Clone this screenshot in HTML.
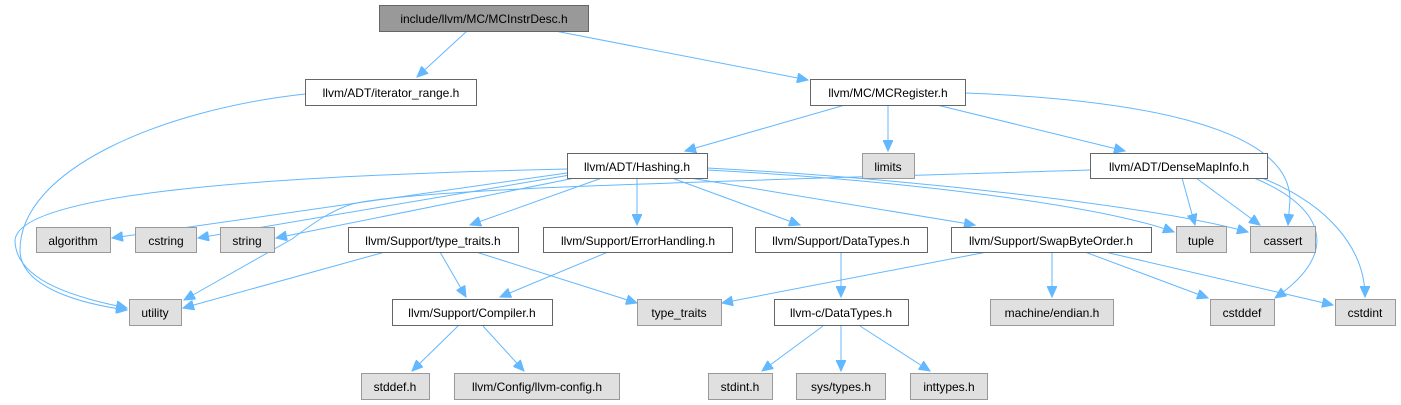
<!DOCTYPE html>
<html><head><meta charset="utf-8"><style>
html,body{margin:0;padding:0;background:#fff;}
svg{display:block;}
text{font-family:"Liberation Sans",Arial,sans-serif;font-size:12px;text-anchor:middle;fill:#000;}
.w{fill:#fff;stroke:#666;stroke-width:1;}
.g{fill:#e0e0e0;stroke:#999;stroke-width:1;}
.r{fill:#999;stroke:#666;stroke-width:1;}
path{fill:none;stroke:#63b8ff;stroke-width:1;}
</style></head><body>
<svg width="1401" height="405" viewBox="0 0 1401 405" xmlns="http://www.w3.org/2000/svg">
<defs><marker id="a" markerUnits="userSpaceOnUse" markerWidth="12" markerHeight="10" refX="11" refY="5" orient="auto"><polygon points="0,0 11,5 0,10" fill="#63b8ff" stroke="#63b8ff"/></marker></defs>
<g marker-end="url(#a)">
<path d="M467,31 L417,77"/>
<path d="M555,31 L808,80"/>
<path d="M305,94 C160,110 20,170 20,250 C20,290 90,305 127,310"/>
<path d="M845,105 L685,151"/>
<path d="M888,105 L888,151"/>
<path d="M937,105 L1125,151"/>
<path d="M965,93 C1150,100 1290,130 1290,200 L1288,225"/>
<path d="M567,169 C300,175 20,190 15,240 C15,285 90,300 127,308"/>
<path d="M567,173 L112,238"/>
<path d="M570,175 L198,238"/>
<path d="M580,177 L276,238"/>
<path d="M602,178 L470,225"/>
<path d="M637,178 L637,225"/>
<path d="M672,178 L800,225"/>
<path d="M690,178 L975,225"/>
<path d="M707,170 C900,180 1100,205 1174,232"/>
<path d="M707,168 C900,178 1150,205 1248,232"/>
<path d="M1090,170 C700,182 420,188 352,204 C330,211 312,224 292,239 L184,300"/>
<path d="M1182,178 L1195,225"/>
<path d="M1196,178 L1260,225"/>
<path d="M1254,178 C1320,205 1345,250 1275,298"/>
<path d="M1262,178 C1330,205 1365,250 1365,297"/>
<path d="M385,252 L183,308"/>
<path d="M440,252 L466,297"/>
<path d="M476,252 L637,303"/>
<path d="M608,252 L500,297"/>
<path d="M841,252 L841,297"/>
<path d="M987,252 L722,303"/>
<path d="M1052,252 L1052,297"/>
<path d="M1085,252 L1208,298"/>
<path d="M1105,252 L1333,305"/>
<path d="M458,326 L412,371"/>
<path d="M483,326 L524,371"/>
<path d="M823,326 L762,371"/>
<path d="M841,326 L841,371"/>
<path d="M860,326 L930,371"/>
</g>
<rect class="r" x="379.5" y="5.5" width="209" height="26"/><text x="484" y="23">include/llvm/MC/MCInstrDesc.h</text>
<rect class="w" x="305.5" y="79.5" width="171" height="26"/><text x="391" y="97">llvm/ADT/iterator_range.h</text>
<rect class="w" x="810.5" y="79.5" width="155" height="26"/><text x="888" y="97">llvm/MC/MCRegister.h</text>
<rect class="w" x="567.5" y="153.5" width="140" height="25"/><text x="637" y="171">llvm/ADT/Hashing.h</text>
<rect class="g" x="862.5" y="153.5" width="52" height="25"/><text x="888" y="171">limits</text>
<rect class="w" x="1090.5" y="153.5" width="177" height="25"/><text x="1179" y="171">llvm/ADT/DenseMapInfo.h</text>
<rect class="g" x="36.5" y="227.5" width="74" height="25"/><text x="73" y="245">algorithm</text>
<rect class="g" x="135.5" y="227.5" width="61" height="25"/><text x="166" y="245">cstring</text>
<rect class="g" x="220.5" y="227.5" width="54" height="25"/><text x="247" y="245">string</text>
<rect class="w" x="348.5" y="227.5" width="170" height="25"/><text x="433" y="245">llvm/Support/type_traits.h</text>
<rect class="w" x="543.5" y="227.5" width="189" height="25"/><text x="638" y="245">llvm/Support/ErrorHandling.h</text>
<rect class="w" x="755.5" y="227.5" width="172" height="25"/><text x="841" y="245">llvm/Support/DataTypes.h</text>
<rect class="w" x="951.5" y="227.5" width="200" height="25"/><text x="1051" y="245">llvm/Support/SwapByteOrder.h</text>
<rect class="g" x="1176.5" y="226.5" width="50" height="26"/><text x="1201" y="245">tuple</text>
<rect class="g" x="1250.5" y="226.5" width="65" height="26"/><text x="1283" y="245">cassert</text>
<rect class="g" x="129.5" y="299.5" width="52" height="26"/><text x="155" y="317">utility</text>
<rect class="w" x="392.5" y="299.5" width="160" height="26"/><text x="472" y="317">llvm/Support/Compiler.h</text>
<rect class="g" x="637.5" y="299.5" width="84" height="26"/><text x="679" y="317">type_traits</text>
<rect class="w" x="774.5" y="299.5" width="134" height="26"/><text x="841" y="317">llvm-c/DataTypes.h</text>
<rect class="g" x="990.5" y="299.5" width="123" height="26"/><text x="1052" y="317">machine/endian.h</text>
<rect class="g" x="1210.5" y="299.5" width="64" height="26"/><text x="1242" y="317">cstddef</text>
<rect class="g" x="1335.5" y="299.5" width="60" height="26"/><text x="1365" y="317">cstdint</text>
<rect class="g" x="361.5" y="373.5" width="68" height="26"/><text x="395" y="391">stddef.h</text>
<rect class="g" x="454.5" y="373.5" width="165" height="26"/><text x="537" y="391">llvm/Config/llvm-config.h</text>
<rect class="g" x="708.5" y="373.5" width="64" height="26"/><text x="740" y="391">stdint.h</text>
<rect class="g" x="796.5" y="373.5" width="89" height="26"/><text x="841" y="391">sys/types.h</text>
<rect class="g" x="910.5" y="373.5" width="77" height="26"/><text x="949" y="391">inttypes.h</text>
</svg>
</body></html>
